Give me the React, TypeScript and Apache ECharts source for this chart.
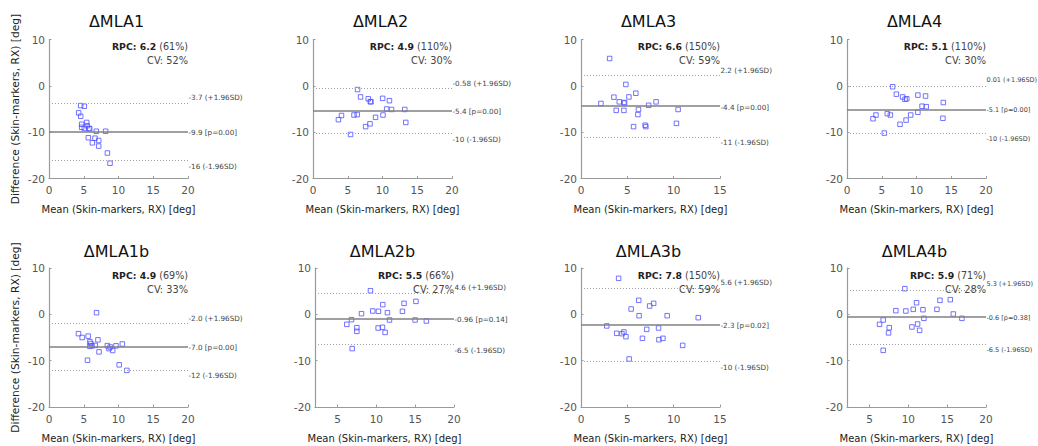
import React, { useEffect, useRef } from "react";
import * as echarts from "echarts";

const titles = ["ΔMLA1", "ΔMLA2", "ΔMLA3", "ΔMLA4", "ΔMLA1b", "ΔMLA2b", "ΔMLA3b", "ΔMLA4b"];
const rpcValues = ["6.2", "4.9", "6.6", "5.1", "4.9", "5.5", "7.8", "5.9"];
const rpcPercents = ["61%", "110%", "150%", "110%", "69%", "66%", "150%", "71%"];
const cvValues = ["52%", "30%", "59%", "30%", "33%", "27%", "59%", "28%"];
const upperLoA = [-3.7, -0.58, 2.2, 0.01, -2.0, 4.6, 5.6, 5.3];
const upperLabels = ["-3.7", "-0.58", "2.2", "0.01", "-2.0", "4.6", "5.6", "5.3"];
const meanBias = [-9.9, -5.4, -4.4, -5.1, -7.0, -0.96, -2.3, -0.6];
const meanLabels = ["-9.9", "-5.4", "-4.4", "-5.1", "-7.0", "-0.96", "-2.3", "-0.6"];
const pValues = ["0.00", "0.00", "0.00", "0.00", "0.00", "0.14", "0.02", "0.38"];
const lowerLoA = [-16.1, -10.2, -11.0, -10.2, -12.0, -6.5, -10.1, -6.5];
const lowerLabels = ["-16", "-10", "-11", "-10", "-12", "-6.5", "-10", "-6.5"];
const xMins = [0, 0, 0, 0, 0, 2.1, 0, 2.1];
const xMaxs = [20, 20, 15, 20, 20, 20, 15, 20];
const xTickValues = [
  [0, 5, 10, 15, 20],
  [0, 5, 10, 15, 20],
  [0, 5, 10, 15],
  [0, 5, 10, 15, 20],
  [0, 5, 10, 15, 20],
  [5, 10, 15, 20],
  [0, 5, 10, 15],
  [5, 10, 15, 20],
];
const yTickValues = [-20, -10, 0, 10];

const mla1 = [
  [4.27, -5.83], [4.56, -4.26], [5.08, -4.4], [4.56, -6.57], [4.7, -8.3],
  [4.7, -8.95], [5.08, -9.2], [5.42, -7.9], [5.5, -8.6], [5.75, -9.2],
  [5.85, -9.25], [5.66, -11.2], [6.24, -12.3], [6.62, -11.3], [6.81, -9.8],
  [7.15, -11.8], [7.15, -13.0], [8.15, -9.8], [8.4, -14.5], [8.78, -16.7],
];
const mla2 = [
  [6.41, -0.8], [6.84, -2.4], [7.95, -2.8], [8.24, -3.4], [8.34, -3.45],
  [10.02, -2.7], [11.0, -3.2], [10.6, -5.0], [11.3, -5.1], [13.2, -5.1],
  [13.35, -7.9], [10.07, -6.3], [9.0, -6.8], [8.2, -8.2], [7.57, -8.8],
  [6.36, -6.2], [5.9, -6.3], [4.1, -6.4], [3.66, -7.3], [5.4, -10.5],
];
const mla3 = [
  [3.09, 5.9], [4.84, 0.3], [5.92, -1.6], [5.17, -2.4], [3.55, -2.45],
  [4.13, -3.45], [4.63, -3.6], [4.7, -3.7], [2.15, -3.8], [8.1, -3.45],
  [7.3, -4.2], [10.48, -5.1], [6.2, -5.1], [3.8, -5.3], [4.63, -5.3],
  [6.14, -6.2], [5.67, -8.8], [6.92, -8.5], [7.0, -8.8], [10.3, -8.1],
];
const mla4 = [
  [6.57, -0.2], [7.1, -1.8], [8.0, -2.4], [8.35, -2.9], [8.6, -2.8],
  [10.2, -2.0], [11.3, -2.2], [13.86, -3.6], [10.8, -4.4], [11.4, -4.5],
  [10.2, -5.7], [9.16, -6.3], [8.5, -7.4], [7.63, -8.3], [5.8, -6.0],
  [6.24, -6.3], [4.17, -6.3], [3.74, -7.1], [5.37, -10.2], [13.8, -7.0],
];
const mla1b = [
  [6.84, 0.36], [4.24, -4.17], [4.77, -5.0], [5.64, -4.7], [7.04, -5.5],
  [5.88, -5.9], [6.02, -6.3], [6.2, -6.8], [5.88, -6.9], [6.65, -6.7],
  [7.2, -8.1], [8.39, -6.76], [8.8, -7.05], [8.63, -7.4], [9.16, -7.8],
  [9.64, -6.8], [10.55, -6.4], [5.54, -9.9], [10.1, -10.9], [11.2, -12.1],
];
const mla2b = [
  [9.24, 5.1], [15.1, 2.8], [13.57, 2.37], [10.83, 2.1], [8.09, 0.14],
  [9.54, 0.72], [10.27, 0.65], [11.43, 0.36], [13.36, 0.65], [6.8, -1.15],
  [11.69, -1.22], [14.99, -1.22], [16.44, -1.44], [6.2, -2.16], [7.49, -2.88],
  [7.49, -3.67], [10.23, -2.95], [10.79, -2.8], [11.13, -3.9], [6.89, -7.4],
];
const mla3b = [
  [4.06, 7.77], [6.23, 3.02], [7.84, 2.37], [7.41, 1.8], [5.41, 1.15],
  [6.27, -0.29], [9.3, -0.29], [12.65, -0.72], [2.78, -2.5], [7.09, -3.24],
  [8.37, -2.95], [3.85, -4.1], [4.63, -3.8], [4.42, -4.17], [4.85, -4.82],
  [6.63, -5.18], [8.41, -5.47], [8.84, -5.18], [10.97, -6.7], [5.2, -9.64],
];
const mla4b = [
  [9.55, 5.54], [15.4, 3.17], [14.07, 3.02], [11.06, 2.5], [8.39, 0.79],
  [9.68, 0.72], [10.63, 1.08], [11.88, 1.0], [13.68, 1.08], [15.79, 0.07],
  [12.0, -0.86], [16.9, -0.86], [6.76, -1.22], [6.29, -2.16], [7.54, -2.88],
  [7.45, -4.0], [10.46, -2.73], [11.19, -2.09], [11.45, -3.45], [6.76, -7.77],
];
const panelData = [mla1, mla2, mla3, mla4, mla1b, mla2b, mla3b, mla4b];

const xAxisName = "Mean (Skin-markers, RX) [deg]";
const yAxisName = "Difference (Skin-markers, RX) [deg]";

// layout (pixels)
const gridBoxes = [
  { left: 49, top: 39.5, width: 139, height: 139 },
  { left: 313, top: 39.5, width: 139, height: 139 },
  { left: 581, top: 39.5, width: 139, height: 139 },
  { left: 847, top: 39.5, width: 139, height: 139 },
  { left: 49, top: 268, width: 139, height: 139 },
  { left: 315, top: 268, width: 139, height: 139 },
  { left: 581, top: 268, width: 139, height: 139 },
  { left: 847, top: 268, width: 139, height: 139 },
];

const FONT = '"DejaVu Sans", Verdana, sans-serif';
const AXIS_COLOR = "#9a9a9a";
const LABEL_COLOR = "#555";

export default function App() {
  const ref = useRef<HTMLDivElement>(null);

  useEffect(() => {
    if (!ref.current) return;
    const chart = echarts.init(ref.current, null, { renderer: "svg" });

    const grid = gridBoxes.map((g) => ({ ...g, containLabel: false }));
    const xAxis = gridBoxes.map((_, i) => ({
      type: "value",
      gridIndex: i,
      min: xMins[i],
      max: xMaxs[i],
      name: xAxisName,
      nameLocation: "middle",
      nameGap: 26,
      nameTextStyle: { fontFamily: FONT, fontSize: 10, color: "#222" },
      axisLine: { show: true, onZero: false, lineStyle: { color: AXIS_COLOR, width: 1.2 } },
      axisTick: { show: true, inside: true, length: 2.5, customValues: xTickValues[i], lineStyle: { color: AXIS_COLOR } },
      axisLabel: { customValues: xTickValues[i], margin: 6, fontFamily: FONT, fontSize: 10.5, color: LABEL_COLOR },
      splitLine: { show: false },
    }));
    const yAxis = gridBoxes.map((_, i) => ({
      type: "value",
      gridIndex: i,
      min: -20,
      max: 10,
      name: i % 4 === 0 ? yAxisName : "",
      nameLocation: "middle",
      nameGap: 28,
      nameTextStyle: { fontFamily: FONT, fontSize: 10.7, color: "#222" },
      axisLine: { show: true, onZero: false, lineStyle: { color: AXIS_COLOR, width: 1.2 } },
      axisTick: { show: true, inside: true, length: 2.5, customValues: yTickValues, lineStyle: { color: AXIS_COLOR } },
      axisLabel: { customValues: yTickValues, margin: 4, fontFamily: FONT, fontSize: 10.5, color: LABEL_COLOR },
      splitLine: { show: false },
    }));
    const series = panelData.map((d, i) => ({
      type: "scatter",
      xAxisIndex: i,
      yAxisIndex: i,
      data: d,
      symbol: "rect",
      symbolSize: 4.5,
      itemStyle: { color: "rgba(0,0,0,0)", borderColor: "#5050ff", borderWidth: 1 },
      z: 3,
      markLine: {
        silent: true,
        symbol: ["none", "none"],
        label: { show: false },
        data: [
          { yAxis: meanBias[i], lineStyle: { color: "#808080", width: 1.5, type: "solid" } },
          { yAxis: upperLoA[i], lineStyle: { color: "#a0a0a0", width: 1, type: [1, 2] } },
          { yAxis: lowerLoA[i], lineStyle: { color: "#a0a0a0", width: 1, type: [1, 2] } },
        ],
      },
    }));

    chart.setOption({ animation: false, grid, xAxis, yAxis, series });

    const graphic: any[] = [];
    gridBoxes.forEach((g, i) => {
      const right = g.left + g.width;
      const up = chart.convertToPixel({ gridIndex: i }, [xMaxs[i], upperLoA[i]]) as number[];
      const mid = chart.convertToPixel({ gridIndex: i }, [xMaxs[i], meanBias[i]]) as number[];
      const low = chart.convertToPixel({ gridIndex: i }, [xMaxs[i], lowerLoA[i]]) as number[];
      // right-most column labels shrink slightly so they stay inside the page
      const smallSize = i % 4 === 3 ? 6.5 : 7.2;
      const small = { fontFamily: FONT, fontSize: smallSize, fill: "#444", align: "left", verticalAlign: "middle" };
      graphic.push({ type: "text", x: up[0] + 0.5, y: up[1] - 5.5, style: { ...small, text: `${upperLabels[i]} (+1.96SD)` } });
      graphic.push({ type: "text", x: mid[0] + 0.5, y: mid[1] + 1, style: { ...small, text: `${meanLabels[i]} [p=${pValues[i]}]` } });
      graphic.push({ type: "text", x: low[0] + 0.5, y: low[1] + 6, style: { ...small, text: `${lowerLabels[i]} (-1.96SD)` } });
      graphic.push({
        type: "text",
        x: right,
        y: g.top + 7,
        style: {
          text: `{b|RPC: ${rpcValues[i]}} (${rpcPercents[i]})`,
          rich: { b: { fontWeight: "bold", fontFamily: FONT, fontSize: 9.3, fill: "#222", color: "#222" } },
          fontFamily: FONT,
          fontSize: 9.6,
          fill: "#444",
          align: "right",
          verticalAlign: "middle",
        },
      });
      graphic.push({
        type: "text",
        x: right,
        y: g.top + 21,
        style: { text: `CV: ${cvValues[i]}`, fontFamily: FONT, fontSize: 9.8, fill: "#444", align: "right", verticalAlign: "middle" },
      });
      graphic.push({
        type: "text",
        x: g.left + g.width / 2 - 2,
        y: i < 4 ? g.top - 18.5 : g.top - 17,
        style: { text: titles[i], fontFamily: FONT, fontSize: 16, fill: "#111", align: "center", verticalAlign: "middle" },
      });
    });
    chart.setOption({ graphic });

    return () => chart.dispose();
  }, []);

  return (
    <div
      ref={ref}
      style={{ position: "fixed", left: 0, top: 0, width: 1038, height: 446, background: "#fff" }}
    />
  );
}
